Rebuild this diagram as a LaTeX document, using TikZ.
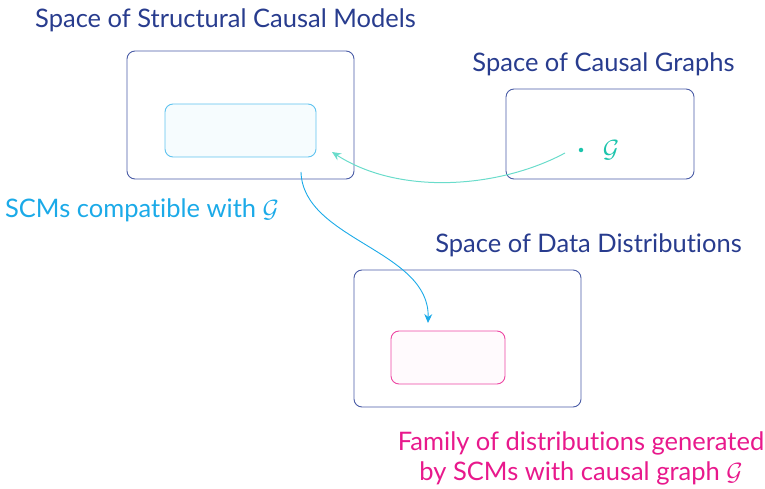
\documentclass[tikz,border=0pt]{standalone}
\usepackage{amsmath}
\usepackage{fontspec}
\setmainfont{Lato}[RawFeature={-liga;-dlig;-calt}]
\usepackage{tikz}
\usetikzlibrary{positioning}
\usetikzlibrary{calc}
\usetikzlibrary{arrows.meta}
\definecolor{navy}{HTML}{283C8E}
\definecolor{frame}{HTML}{4A5CA6}
\definecolor{scmblue}{HTML}{1BAAE8}
\definecolor{teal}{HTML}{1CC4AC}
\definecolor{tealline}{HTML}{6ADCCB}
\definecolor{pinky}{HTML}{E8198C}
\def\G{\ensuremath{\mathcal{G}}}

\begin{document}
\begin{tikzpicture}[x=1pt, y=-1pt,
		space/.style={draw=frame, line width=0.9pt, rounded corners=8pt},
		subset/.style={line width=0.9pt, rounded corners=8pt},
		title/.style={text=navy, font=\fontsize{25.5}{30}\selectfont, inner sep=0pt},
		>={Stealth[length=9pt, width=8pt, inset=3pt]}]
		\useasboundingbox (0,0) rectangle (765,489);
		\node[space, minimum width=227pt, minimum height=128pt] (SCM) at (240.5,115) {};
		\node[subset, draw=scmblue!70, fill=scmblue!4, minimum width=151pt, minimum height=53pt] (C) at (240.5,130.5) {};
		\node[space, minimum width=188pt, minimum height=90pt] (Gr) at (600,134) {};
		\node[space, minimum width=227pt, minimum height=137pt] (D) at (467.5,338.5) {};
		\node[subset, draw=pinky!80, fill=pinky!2, minimum width=114pt, minimum height=53pt] (P) at (448,357.5) {};
		\node[title] (tSCM) at (225.5,20) {Space of Structural Causal Models};
		\node[title] (tGr) at (603.5,64) {Space of Causal Graphs};
		\node[title] (tD) at (588.5,245) {Space of Data Distributions};
		\node[title, text=scmblue] (tC) at (142,210) {SCMs compatible with \G};
		\node[title, text=pinky, align=center] (tP) at (581,458) {Family of distributions generated\\by SCMs with causal graph \G};
		\node[circle, fill=teal, inner sep=0pt, minimum size=4.5pt] (g) at (581,150) {};
		\node[text=teal, font=\fontsize{25.5}{30}\selectfont, inner sep=0pt] (gl) at (611,150) {\G};
		\coordinate (tS) at (565,153);
		\coordinate (tE) at (332,152);
		\coordinate (cS) at (301,172);
		\coordinate (cE) at (428,323);
		\draw[tealline, line width=1pt, ->] (tS) .. controls (500,188) and (400,196) .. (tE);
		\draw[scmblue, line width=0.9pt, ->] (cS) .. controls (303,240) and (430,250) .. (cE);
\end{tikzpicture}
\end{document}
